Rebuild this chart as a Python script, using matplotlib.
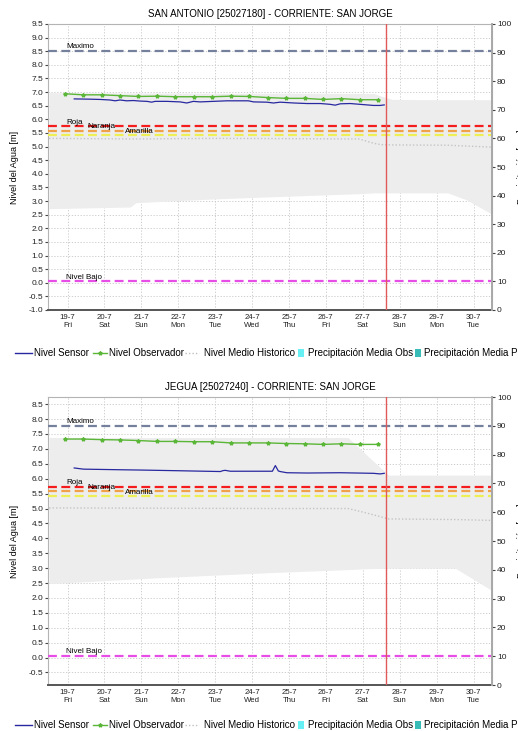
import matplotlib
matplotlib.use("Agg")
import matplotlib.pyplot as plt
from matplotlib.lines import Line2D
from matplotlib.patches import Rectangle

plt.rcParams["font.family"] = ["Liberation Sans", "DejaVu Sans"]

# ---- x axis: days since 19-7 00:00 ----
day_labels = ["19-7\nFri", "20-7\nSat", "21-7\nSun", "22-7\nMon", "23-7\nTue", "24-7\nWed",
              "25-7\nThu", "26-7\nFri", "27-7\nSat", "28-7\nSun", "29-7\nMon", "30-7\nTue"]
day_ticks = [0.5, 1.5, 2.5, 3.5, 4.5, 5.5, 6.5, 7.5, 8.5, 9.5, 10.5, 11.5]
now_day = 9.13

obs_days = [0.42, 0.92, 1.42, 1.92, 2.42, 2.92, 3.42, 3.92, 4.42,
            4.92, 5.42, 5.92, 6.42, 6.92, 7.42, 7.92, 8.42, 8.92]

# ---- SAN ANTONIO ----
sa_sensor_days = [0.68, 1.11, 1.38, 1.65, 1.79, 1.92, 2.10, 2.28, 2.47, 2.65, 2.78, 2.87,
                  3.19, 3.55, 3.73, 3.91, 4.09, 4.45, 4.82, 5.18, 5.40, 5.54, 5.90, 6.08,
                  6.26, 6.63, 6.99, 7.35, 7.62, 7.75, 7.89, 8.16, 8.43, 8.61, 8.79, 8.97, 9.08]
sa_sensor = [6.75, 6.74, 6.73, 6.71, 6.68, 6.71, 6.68, 6.69, 6.67, 6.66, 6.63, 6.66,
             6.66, 6.64, 6.60, 6.66, 6.64, 6.66, 6.68, 6.68, 6.68, 6.64, 6.63, 6.60,
             6.63, 6.60, 6.58, 6.58, 6.55, 6.52, 6.57, 6.58, 6.55, 6.53, 6.51, 6.51, 6.53]
sa_obs = [6.94, 6.90, 6.90, 6.87, 6.84, 6.85, 6.83, 6.83, 6.83,
          6.85, 6.84, 6.80, 6.77, 6.77, 6.73, 6.76, 6.72, 6.72]
sa_hist_days = [0, 2.2, 2.35, 4.5, 6.5, 8.4, 8.8, 9.0, 9.3, 10.8, 11.3, 12.0]
sa_hist_upper = [6.98, 6.97, 6.97, 6.96, 6.96, 6.95, 6.95, 6.85, 6.73, 6.72, 6.72, 6.72]
sa_hist_lower = [2.72, 2.78, 2.94, 3.08, 3.18, 3.27, 3.30, 3.30, 3.30, 3.30, 3.05, 2.52]
sa_hist_mean = [5.30, 5.28, 5.28, 5.30, 5.29, 5.28, 5.12, 5.07, 5.06, 5.05, 5.02, 4.98]
sa_levels = {"Maximo": 8.52, "Roja": 5.74, "Naranja": 5.59, "Amarilla": 5.43, "Nivel Bajo": 0.05}

# ---- JEGUA ----
je_sensor_days = [0.68, 0.93, 1.92, 2.47, 3.37, 4.64, 4.71, 4.77, 4.91, 5.18, 5.72,
                  6.05, 6.13, 6.21, 6.26, 6.44, 6.99, 7.89, 8.79, 8.97, 9.08]
je_sensor = [6.36, 6.32, 6.30, 6.29, 6.27, 6.24, 6.27, 6.28, 6.25, 6.25, 6.25,
             6.25, 6.44, 6.26, 6.24, 6.20, 6.19, 6.20, 6.18, 6.16, 6.18]
je_obs = [7.33, 7.33, 7.31, 7.30, 7.28, 7.25, 7.25, 7.24, 7.24,
          7.20, 7.20, 7.20, 7.18, 7.17, 7.15, 7.17, 7.15, 7.15]
je_hist_days = [0, 3.0, 6.0, 8.1, 8.6, 9.2, 11.0, 12.0]
je_hist_upper = [7.38, 7.38, 7.38, 7.38, 6.80, 6.12, 6.12, 6.12]
je_hist_lower = [2.48, 2.68, 2.85, 2.95, 2.98, 3.00, 3.00, 2.25]
je_hist_mean = [5.02, 5.01, 5.00, 5.00, 4.85, 4.65, 4.63, 4.60]
je_levels = {"Maximo": 7.78, "Roja": 5.73, "Naranja": 5.58, "Amarilla": 5.43, "Nivel Bajo": 0.05}

level_colors = {"Maximo": "#74809c", "Roja": "#f41c1c", "Naranja": "#f0a048",
                "Amarilla": "#eeee55", "Nivel Bajo": "#e64ee6"}
BLUE = "#2828a0"
GREEN = "#5ab636"
TICK = 6

W, H = 518, 731
fig = plt.figure(figsize=(W / 100, H / 100), dpi=100)


def panel(top_px, bot_px, title, ylim, yticks, s_days, s_vals, o_vals,
          h_days, h_up, h_lo, h_mean, levels):
    ax = fig.add_axes([48 / W, 1 - bot_px / H, 444 / W, (bot_px - top_px) / H])
    ax.set_xlim(-0.03, 12.0)
    ax.set_ylim(*ylim)

    ax.fill_between(h_days, h_lo, h_up, color="#ededed", lw=0, zorder=1)
    ax.plot(h_days, h_mean, color="#c4c4c4", lw=1, ls=(0, (1, 1.5)), zorder=2)

    for name, v in levels.items():
        ax.axhline(v, color=level_colors[name], lw=1.6, ls=(0, (4, 2)), zorder=3)
    ax.text(0.46, levels["Maximo"] + 0.02, "Maximo", fontsize=5.8, va="bottom", zorder=6)
    ax.text(0.46, levels["Roja"] + 0.02, "Roja", fontsize=5.8, va="bottom", zorder=6)
    ax.text(1.05, levels["Roja"] - 0.02, "Naranja", fontsize=5.8, va="center", zorder=6)
    ax.text(2.06, levels["Naranja"] - 0.03, "Amarilla", fontsize=5.8, va="center", zorder=6)
    ax.text(0.46, levels["Nivel Bajo"] + 0.02, "Nivel Bajo", fontsize=5.8, va="bottom", zorder=6)

    ax.plot(s_days, s_vals, color=BLUE, lw=0.9, zorder=4)
    ax.plot(obs_days, o_vals, color=GREEN, lw=1.0, marker="*", ms=2.8, zorder=5)
    ax.axvline(now_day, color="#e05a5a", lw=1.0, zorder=6)

    ax.set_yticks(yticks)
    ax.set_yticklabels([f"{t:.1f}" for t in yticks], fontsize=TICK)
    ax.set_xticks(day_ticks)
    ax.set_xticklabels(day_labels, fontsize=5.6, linespacing=1.15)
    ax.tick_params(axis="y", length=2, pad=1.5, colors="#444444", labelcolor="#222222")
    ax.tick_params(axis="x", length=0, pad=3, labelcolor="#222222")
    ax.grid(True, color="#c6c6c6", lw=0.6, ls=(0, (1.5, 2)))
    ax.set_axisbelow(True)
    for sp in ("left", "top", "right"):
        ax.spines[sp].set_color("#b4b4b4")
        ax.spines[sp].set_linewidth(0.8)
    ax.spines["bottom"].set_color("#555555")
    ax.spines["bottom"].set_linestyle((0, (1, 1)))
    ax.spines["bottom"].set_linewidth(1.4)
    ax.set_ylabel("Nivel del Agua [m]", fontsize=6.5, labelpad=7)
    ax.set_title(title, fontsize=7, pad=5)

    ax2 = ax.twinx()
    ax2.set_ylim(0, 100)
    ax2.set_yticks(range(0, 101, 10))
    ax2.set_yticklabels([str(t) for t in range(0, 101, 10)], fontsize=TICK)
    ax2.tick_params(axis="y", length=2, pad=1.5, colors="#444444", labelcolor="#222222")
    for sp in ax2.spines.values():
        sp.set_visible(False)
    ax2.spines["right"].set_visible(True)
    ax2.spines["right"].set_color("#a8a8a8")
    ax2.spines["right"].set_linewidth(1.4)
    # right axis title sits almost entirely past the image edge, as in the original
    fig.text(517.5 / W, 1 - (top_px + bot_px) / 2 / H, "Precipitación [mm]", rotation=90,
             fontsize=6.5, ha="left", va="center")
    return ax


def legend_row(y_px):
    y = 1 - y_px / H
    fig.add_artist(Line2D([15 / W, 32 / W], [y, y], color=BLUE, lw=1))
    fig.text(34 / W, y, "Nivel Sensor", fontsize=7, va="center")
    fig.add_artist(Line2D([93 / W, 107 / W], [y, y], color=GREEN, lw=1))
    fig.add_artist(Line2D([100 / W], [y], color=GREEN, marker="*", ms=2.8))
    fig.text(109 / W, y, "Nivel Observador", fontsize=7, va="center")
    fig.add_artist(Line2D([185 / W, 199 / W], [y, y], color="#c0c0c0", lw=1, ls=(0, (1, 1.5))))
    fig.text(204 / W, y, "Nivel Medio Historico", fontsize=7, va="center")
    fig.add_artist(Rectangle((298 / W, y - 4 / H), 6 / W, 8 / H, color="#66f0f4", lw=0))
    fig.text(308 / W, y, "Precipitación Media Obs", fontsize=7, va="center")
    fig.add_artist(Rectangle((415 / W, y - 4 / H), 6 / W, 8 / H, color="#38bcb8", lw=0))
    fig.text(424 / W, y, "Precipitación Media Pronosticada", fontsize=7, va="center")


panel(24, 310, "SAN ANTONIO [25027180] - CORRIENTE: SAN JORGE", (-1.0, 9.5),
      [-1.0 + 0.5 * i for i in range(22)], sa_sensor_days, sa_sensor, sa_obs,
      sa_hist_days, sa_hist_upper, sa_hist_lower, sa_hist_mean, sa_levels)
legend_row(353)

panel(397, 685, "JEGUA [25027240] - CORRIENTE: SAN JORGE", (-0.92, 8.74),
      [-0.5 + 0.5 * i for i in range(19)], je_sensor_days, je_sensor, je_obs,
      je_hist_days, je_hist_upper, je_hist_lower, je_hist_mean, je_levels)
legend_row(725)

fig.savefig("out.png", dpi=100, facecolor="white")
